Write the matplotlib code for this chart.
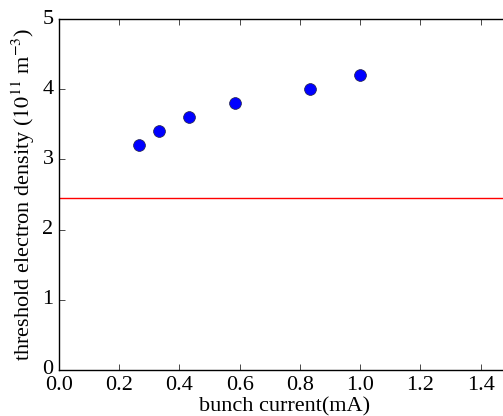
import matplotlib
matplotlib.use("Agg")
import matplotlib.pyplot as plt

plt.style.use("classic")
plt.rcParams["font.family"] = ["Liberation Serif", "DejaVu Serif"]
plt.rcParams["mathtext.fontset"] = "stix"
plt.rcParams["font.size"] = 16

# bunch current (mA) and threshold density (1e11 m^-3)
current = [0.267, 0.333, 0.433, 0.583, 0.833, 1.0]
density = [3.2, 3.4, 3.6, 3.8, 4.0, 4.2]
threshold_line = 2.45

fig = plt.figure(figsize=(5.03, 4.16), dpi=100, facecolor="white")
ax = fig.add_axes([0.1173, 0.1106, 0.898, 0.8434])

ax.plot(current, density, "o", color="blue", markersize=8.5,
        markeredgecolor="#222244", markeredgewidth=0.5)
ax.axhline(threshold_line, color="red", linewidth=1.0)

ax.set_xlim(0, 1.5)
ax.set_ylim(0, 5)
ax.set_xticks([0.0, 0.2, 0.4, 0.6, 0.8, 1.0, 1.2, 1.4])
ax.set_yticks([0, 1, 2, 3, 4, 5])
ax.set_xlabel("bunch current(mA)", labelpad=2)
ax.set_ylabel(r"threshold electron density ($10^{11}$ m$^{-3}$)", labelpad=4)

fig.savefig("out.png", dpi=100, facecolor="white")
